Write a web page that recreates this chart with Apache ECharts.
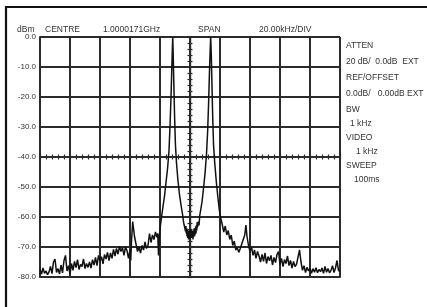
<!DOCTYPE html>
<html>
<head>
<meta charset="utf-8">
<script src="https://cdn.jsdelivr.net/npm/echarts@6/dist/echarts.min.js"></script>
<style>
  html, body { margin: 0; padding: 0; background: #fff; }
  #spectrum { width: 427px; height: 307px; }
</style>
</head>
<body>
<div id="spectrum"></div>
<script>
// offset from centre frequency (kHz) and measured level (dBm)
const freqKHz = [
  // noise floor, left side
  -100, -99, -98, -97, -96, -95, -94, -93, -92, -91,
  -90, -89, -88, -87, -86, -85, -84, -83, -82, -81,
  -80, -79, -78, -77, -76, -75, -74, -73, -72, -71,
  -70, -69, -68, -67, -66, -65, -64, -63, -62, -61,
  -60, -59, -58, -57, -56, -55, -54, -53, -52, -51,
  -50, -49, -48, -47, -46, -45, -44, -43, -42, -41,
  -40,
  // spur and ramp
  -39.5, -39, -38.2, -37.6, -37, -36, -35, -34, -33,
  -32, -31, -30, -29, -28, -27, -26, -25, -24, -23,
  -22, -21.5, -21, -20.5,
  // lower tone
  -20, -19, -18, -17, -16, -15, -14, -13.2, -12.6, -12.1,
  -11.7, -11.5, -11.2, -10.8, -10.3, -9.7, -9, -8, -7, -6,
  -5, -4.5, -4,
  // valley between tones
  -3.5, -3, -2.75, -2.5, -2.25, -2, -1.75, -1.5, -1.25, -1,
  -0.75, -0.5, -0.25, 0, 0.25, 0.5, 0.75, 1, 1.25, 1.5,
  1.75, 2, 2.25, 2.5, 2.75, 3, 3.25, 3.5, 3.75, 4,
  4.25, 4.5, 4.75, 5, 5.5, 6, 6.5,
  // upper tone
  7, 8, 9, 10, 11, 11.8, 12.4, 12.9, 13.4, 13.8,
  14.2, 14.6, 15.1, 15.7, 16.5, 17.5, 18.5, 19.5, 20.5, 21.5,
  22.5,
  // noise floor, right side
  23.5, 24.5, 25.5, 26.5, 27.5, 28.5, 29.5, 30.5, 31.5, 32.5,
  33.5, 34.5, 35.5, 36.5, 37.3, 38, 39, 40, 41, 42,
  43, 44, 45, 46, 47, 48, 49, 50, 51, 52,
  53, 54, 55, 56, 57, 58, 59, 60, 61, 62,
  63, 64, 65, 66, 67, 68, 69, 70, 71, 72,
  73, 74, 75, 76, 77, 78, 79, 80, 81, 82,
  83, 84, 85, 86, 87, 88, 89, 90, 91, 92,
  93, 94, 95, 96, 97, 98, 99, 100
];
const levelDbm = [
  // noise floor, left side
  -77.5, -79.0, -77.0, -78.8, -78.0, -79.2, -78.3, -76.5, -78.9, -75.0,
  -74.0, -78.5, -77.2, -79.0, -76.0, -78.6, -74.5, -72.8, -78.0, -76.2,
  -79.0, -75.5, -77.8, -74.8, -76.9, -74.2, -77.5, -75.8, -76.5, -74.0,
  -77.2, -75.5, -76.8, -75.0, -77.0, -74.2, -76.0, -73.5, -76.2, -72.8,
  -74.8, -73.2, -75.6, -72.5, -74.0, -71.8, -74.5, -72.0, -73.8, -70.8,
  -73.0, -70.5, -72.4, -69.8, -71.5, -70.2, -72.8, -70.0, -71.2, -73.8,
  -71.0,
  // spur and ramp
  -74.5, -68.0, -61.5, -64.0, -66.5, -69.0, -71.5, -70.0, -72.0,
  -69.5, -71.0, -68.3, -70.5, -69.5, -65.5, -68.5, -66.0, -67.5, -65.0,
  -66.8, -65.5, -72.8, -66.5,
  // lower tone
  -64.0, -60.0, -56.5, -53.0, -48.5, -44.0, -38.0, -28.0, -19.0, -10.0,
  -3.0, 0.0, -6.0, -15.0, -26.0, -36.0, -42.0, -48.0, -52.5, -56.0,
  -59.0, -61.0, -62.5,
  // valley between tones
  -63.5, -64.8, -63.0, -65.5, -63.8, -66.5, -64.2, -67.0, -64.5, -67.5,
  -65.0, -66.8, -64.5, -67.2, -65.0, -66.5, -64.0, -67.0, -65.2, -66.8,
  -64.5, -67.5, -64.8, -66.2, -63.8, -66.5, -64.0, -65.8, -63.2, -65.5,
  -62.8, -64.5, -61.8, -63.5, -61.5, -62.8, -59.5,
  // upper tone
  -58.0, -55.0, -50.5, -45.5, -39.0, -31.0, -22.0, -13.0, -5.0, 0.0,
  -6.0, -15.0, -26.0, -36.0, -42.0, -48.0, -53.0, -57.5, -60.5, -62.5,
  -65.0,
  // noise floor, right side
  -63.0, -66.0, -64.5, -67.5, -66.0, -69.5, -68.0, -71.0, -70.2, -71.8,
  -70.5, -69.0, -68.5, -66.0, -62.7, -66.5, -69.5, -71.5, -70.0, -72.8,
  -71.0, -73.8, -71.5, -73.0, -75.0, -72.5, -74.8, -72.0, -75.5, -73.2,
  -74.6, -72.8, -76.0, -73.5, -75.2, -72.5, -71.5, -75.8, -73.8, -76.5,
  -74.2, -75.5, -73.0, -76.2, -74.5, -77.0, -74.8, -76.5, -75.8, -75.5,
  -71.0, -75.0, -77.8, -76.2, -78.5, -76.8, -78.0, -77.0, -78.8, -77.2,
  -78.4, -76.9, -78.6, -77.5, -78.2, -77.0, -78.8, -76.5, -78.4, -77.2,
  -78.6, -77.8, -76.2, -78.5, -77.0, -74.5, -77.8, -78.2
];

const headerLabels = ['dBm', 'CENTRE', '1.0000171GHz', 'SPAN', '20.00kHz/DIV'];
const headerX = [17, 45, 103, 198, 259];
const panelLabels = ['ATTEN', '20 dB/  0.0dB  EXT', 'REF/OFFSET', '0.0dB/   0.00dB EXT',
  'BW', '1 kHz', 'VIDEO', '1 kHz', 'SWEEP', '100ms'];
const panelX = [346, 346, 346, 346, 346, 350, 346, 356, 346, 354];
const panelY = [46, 62, 78, 94, 110, 124, 138, 152, 166, 180];

const ink = '#2b2b2b';
const fontFamily = '"Liberation Sans", Arial, sans-serif';

const chart = echarts.init(document.getElementById('spectrum'));

const trace = freqKHz.map((f, i) => [f, levelDbm[i]]);

const graphics = [
  {
    type: 'polyline',
    shape: { points: [[6, 330], [6, 7], [440, 7]] },
    style: { stroke: '#111', lineWidth: 2.2, fill: null }
  }
];
headerLabels.forEach((t, i) => {
  graphics.push({
    type: 'text', left: headerX[i], top: 25,
    style: { text: t, fill: '#333', font: '8.5px ' + fontFamily }
  });
});
panelLabels.forEach((t, i) => {
  graphics.push({
    type: 'text', left: panelX[i], top: panelY[i] - 5,
    style: { text: t, fill: '#333', font: '8.5px ' + fontFamily }
  });
});

// small cross-hair ticks on the centre lines
const tickAxis = (extra) => Object.assign({
  type: 'value',
  axisLine: { show: true, lineStyle: { color: ink, width: 1.2 } },
  axisTick: { show: true, length: 2.5, lineStyle: { color: ink, width: 1.2 } },
  axisLabel: { show: false },
  splitLine: { show: false }
}, extra);

const option = {
  animation: false,
  grid: { left: 40, top: 37, width: 300, height: 240 },
  graphic: graphics,
  xAxis: [
    {
      type: 'value', min: -100, max: 100, interval: 20,
      axisLine: { onZero: false, lineStyle: { color: ink, width: 2 } },
      axisTick: { show: false },
      axisLabel: { show: false },
      splitLine: { show: true, lineStyle: { color: ink, width: 2 } }
    },
    tickAxis({ min: -100, max: 100, interval: 4,
      axisLine: { onZero: true, onZeroAxisIndex: 1, lineStyle: { color: ink, width: 2 } } }),
    tickAxis({ min: -100, max: 100, interval: 4,
      axisTick: { show: true, inside: true, length: 2.5, lineStyle: { color: ink, width: 1.2 } },
      axisLine: { onZero: true, onZeroAxisIndex: 1, lineStyle: { color: ink, width: 2 } } }),
    { type: 'value', min: -1, max: 1, show: false }
  ],
  yAxis: [
    {
      type: 'value', min: -80, max: 0, interval: 10,
      axisLine: { onZero: false, lineStyle: { color: ink, width: 2 } },
      axisTick: { show: false },
      axisLabel: {
        color: '#333', fontSize: 8, fontFamily: fontFamily, margin: 4,
        formatter: v => v.toFixed(1)
      },
      splitLine: { show: true, lineStyle: { color: ink, width: 2 } }
    },
    { type: 'value', min: -1, max: 1, show: false },
    tickAxis({ min: -80, max: 0, interval: 2,
      axisLine: { onZero: true, onZeroAxisIndex: 3, lineStyle: { color: ink, width: 1.2 } } }),
    tickAxis({ min: -80, max: 0, interval: 2,
      axisTick: { show: true, inside: true, length: 2.5, lineStyle: { color: ink, width: 1.2 } },
      axisLine: { onZero: true, onZeroAxisIndex: 3, lineStyle: { color: ink, width: 1.2 } } })
  ],
  series: [
    {
      type: 'line',
      xAxisIndex: 0,
      yAxisIndex: 0,
      data: trace,
      showSymbol: false,
      symbol: 'none',
      lineStyle: { color: '#111', width: 1.5 },
      z: 5
    }
  ]
};

chart.setOption(option);
</script>
</body>
</html>
